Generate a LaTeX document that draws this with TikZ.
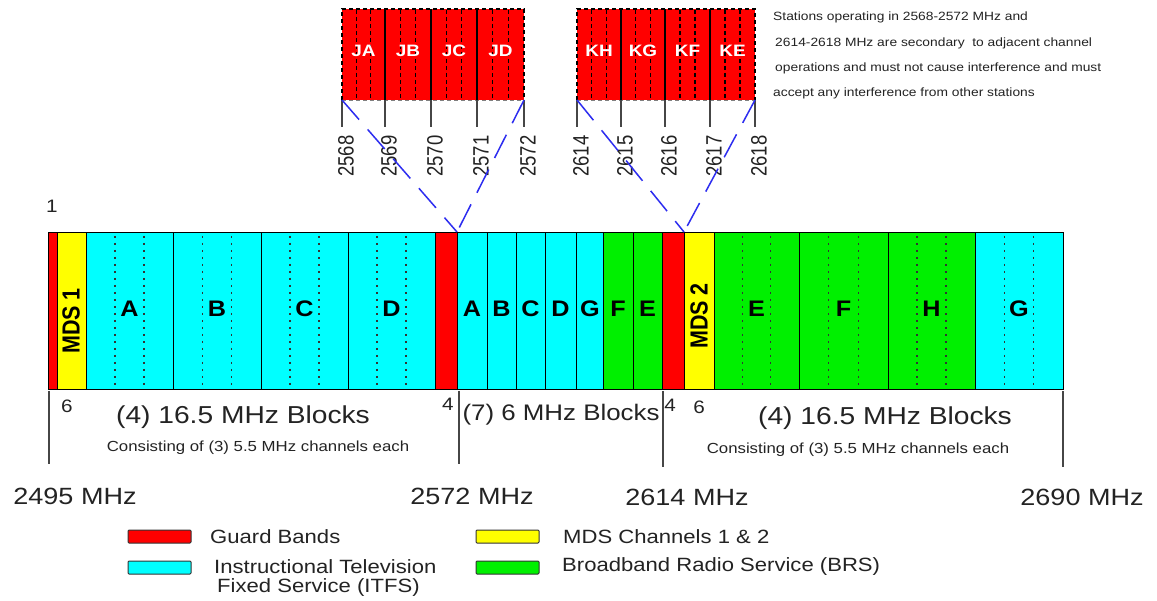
\documentclass[tikz,border=0pt]{standalone}
\usepackage{fontspec}
\setmainfont{Liberation Sans}
\definecolor{gred}{RGB}{255,0,0}
\definecolor{myyel}{RGB}{255,255,0}
\definecolor{mycyan}{RGB}{0,255,255}
\definecolor{mygreen}{RGB}{0,240,0}
\definecolor{txtgray}{RGB}{35,35,35}
\definecolor{dashblue}{RGB}{45,45,240}
\definecolor{linegray}{RGB}{70,70,70}
\newcommand{\fs}[1]{\fontsize{#1}{#1}\selectfont}
\tikzset{
  seg/.style={draw=black, line width=1pt},
  dotline/.style={draw=black!80, line width=1.6pt, dash pattern=on 1.6pt off 5.4pt},
  tdash/.style={draw=black, line width=1.3pt, dash pattern=on 4pt off 3pt},
  tsep/.style={draw=black, line width=1.1pt},
  tick/.style={draw=linegray, line width=1.6pt},
  vline/.style={draw=linegray, line width=1.8pt},
  blueline/.style={draw=dashblue, line width=1.5pt, dash pattern=on 26pt off 13pt},
  txt/.style={text=txtgray, inner sep=0pt, xscale=1.15},
  big/.style={txt, font=\fs{23.5}},
  blk/.style={txt, font=\fs{24.5}},
  cons/.style={txt, font=\fs{14.6}},
  small/.style={txt, font=\fs{18}},
  letter/.style={text=black, inner sep=0pt, xscale=1.12, font=\bfseries\fs{22.5}},
  mds/.style={text=black, inner sep=0pt, rotate=90, yscale=1.15, font=\bfseries\fs{21.5}},
  jlab/.style={text=white, inner sep=0pt, xscale=1.15, font=\bfseries\fs{16.5}},
  freq/.style={text=txtgray, inner sep=0pt, rotate=90, yscale=1.2, font=\fs{18.5}},
  note/.style={txt, anchor=west, font=\fs{12}},
  leg/.style={txt, anchor=west, font=\fs{19.2}},
  swatch/.style={draw=black!80, line width=1pt, rounded corners=1pt}
}
\begin{document}
\begin{tikzpicture}[x=1pt,y=-1pt]
\useasboundingbox (0,0) rectangle (1157,601);
\fill[white] (0,0) rectangle (1157,601);

% ---------- main band ----------
\foreach \a/\b/\c in {48/57/gred, 57/86/myyel, 86/173/mycyan, 173/261/mycyan, 261/348/mycyan, 348/435/mycyan,
  435/457/gred, 457/487/mycyan, 487/516/mycyan, 516/545/mycyan, 545/576/mycyan, 576/603/mycyan,
  603/633/mygreen, 633/662/mygreen, 662/684/gred, 684/714/myyel,
  714/799/mygreen, 799/888/mygreen, 888/975/mygreen, 975/1063/mycyan}
  { \filldraw[seg, fill=\c] (\a,233) rectangle (\b,390); }
\foreach \a/\b in {86/173, 173/261, 261/348, 348/435, 714/799, 799/888, 888/975, 975/1063}
  { \draw[dotline] ({\a+(\b-\a)/3},236) -- ({\a+(\b-\a)/3},389);
    \draw[dotline] ({\a+2*(\b-\a)/3},236) -- ({\a+2*(\b-\a)/3},389); }

\node[mds] (mds1) at (71,321) {MDS 1};
\node[mds] (mds2) at (699,316) {MDS 2};
\node[letter] (la1) at (129.5,309) {A};
\node[letter] (lb1) at (217,309) {B};
\node[letter] (lc1) at (304.5,309) {C};
\node[letter] (ld1) at (391.5,309) {D};
\node[letter] (la2) at (472,309) {A};
\node[letter] (lb2) at (501.5,309) {B};
\node[letter] (lc2) at (530.5,309) {C};
\node[letter] (ld2) at (560.5,309) {D};
\node[letter] (lg2) at (590,309) {G};
\node[letter] (lf2) at (618,309) {F};
\node[letter] (le2) at (647.5,309) {E};
\node[letter] (le3) at (756.5,309) {E};
\node[letter] (lf3) at (843.5,309) {F};
\node[letter] (lh3) at (931.5,309) {H};
\node[letter] (lg3) at (1019,309) {G};

% ---------- lines below band ----------
\coordinate (v1t) at (49,391);   \coordinate (v1b) at (49,464);
\coordinate (v2t) at (459,391);  \coordinate (v2b) at (459,464);
\coordinate (v3t) at (663,391);  \coordinate (v3b) at (663,467);
\coordinate (v4t) at (1063,391); \coordinate (v4b) at (1063,467);
\draw[vline] (v1t) -- (v1b);
\draw[vline] (v2t) -- (v2b);
\draw[vline] (v3t) -- (v3b);
\draw[vline] (v4t) -- (v4b);

\node[small] (n1) at (52,206) {1};
\node[small] (n6a) at (67,406) {6};
\node[small] (n4a) at (448,404) {4};
\node[small] (n4b) at (670,405) {4};
\node[small] (n6b) at (699,407) {6};

\node[blk] (blk1) at (243,417) {(4) 16.5 MHz Blocks};
\node[cons] (cons1) at (258,448) {Consisting of (3) 5.5 MHz channels each};
\node[blk, font=\fs{22.5}] (blk2) at (561,415) {(7) 6 MHz Blocks};
\node[blk] (blk3) at (885,418) {(4) 16.5 MHz Blocks};
\node[cons] (cons3) at (858,450) {Consisting of (3) 5.5 MHz channels each};

\node[big] (f2495) at (75,496) {2495 MHz};
\node[big] (f2572) at (472,496) {2572 MHz};
\node[big] (f2614) at (687,497) {2614 MHz};
\node[big] (f2690) at (1082,497) {2690 MHz};

% ---------- top sub-blocks ----------
\foreach \a/\b in {342/385, 385/431, 431/477, 477/524, 577/621, 621/665, 665/710, 710/755}
  { \fill[gred] (\a,9) rectangle (\b,100);
    \draw[tdash] ({\a+(\b-\a)/3},10) -- ({\a+(\b-\a)/3},100);
    \draw[tdash] ({\a+2*(\b-\a)/3},10) -- ({\a+2*(\b-\a)/3},100); }
\draw[tdash] (342,100) -- (342,9) -- (524,9) -- (524,100);
\draw[tdash] (577,100) -- (577,9) -- (755,9) -- (755,100);
\draw[tdash, draw=black!50, line width=0.9pt] (342,100) -- (524,100);
\draw[tdash, draw=black!50, line width=0.9pt] (577,100) -- (755,100);
\foreach \x in {385,431,477,621,665,710} { \draw[tsep] (\x,9) -- (\x,100); }

\node[jlab] (ja) at (363.5,51) {JA};
\node[jlab] (jb) at (408,51) {JB};
\node[jlab] (jc) at (454,51) {JC};
\node[jlab] (jd) at (500.5,51) {JD};
\node[jlab] (kh) at (599,51) {KH};
\node[jlab] (kg) at (643,51) {KG};
\node[jlab] (kf) at (687.5,51) {KF};
\node[jlab] (ke) at (732.5,51) {KE};

\foreach \x/\t in {342/2568, 385/2569, 431/2570, 477/2571, 524/2572, 577/2614, 621/2615, 665/2616, 710/2617, 755/2618}
  { \draw[tick] (\x,100) -- (\x,127);
    \node[freq] (t\t) at (\x+4,156) {\t}; }

% ---------- blue dashed connectors ----------
\coordinate (jl) at (342,100);
\coordinate (jr) at (524,100);
\coordinate (kl) at (577,100);
\coordinate (kr) at (755,100);
\coordinate (jm) at (457,232);
\coordinate (km) at (684,232);
\draw[blueline] (jl) -- (jm);
\draw[blueline] (jr) -- (jm);
\draw[blueline] (kl) -- (km);
\draw[blueline] (kr) -- (km);

% ---------- note ----------
\node[note] (note1) at (773,17) {Stations operating in 2568-2572 MHz and};
\node[note] (note2) at (775,43) {2614-2618 MHz are secondary\ \ to adjacent channel};
\node[note] (note3) at (775,68) {operations and must not cause interference and must};
\node[note] (note4) at (773,93) {accept any interference from other stations};

% ---------- legend ----------
\filldraw[swatch, fill=gred] (128,530) rectangle (191,543);
\filldraw[swatch, fill=mycyan] (128,561) rectangle (191,574);
\filldraw[swatch, fill=myyel] (476,530) rectangle (539,543);
\filldraw[swatch, fill=mygreen] (476,561) rectangle (539,574);
\node[leg] (lg1) at (210,537) {Guard Bands};
\node[leg] (lg2) at (214,567) {Instructional Television};
\node[leg] (lg3) at (217,588) {Fixed Service (ITFS)};
\node[leg] (lg4) at (563,537) {MDS Channels 1 \& 2};
\node[leg] (lg5) at (562,567) {Broadband Radio Service (BRS)};
\end{tikzpicture}
\end{document}
